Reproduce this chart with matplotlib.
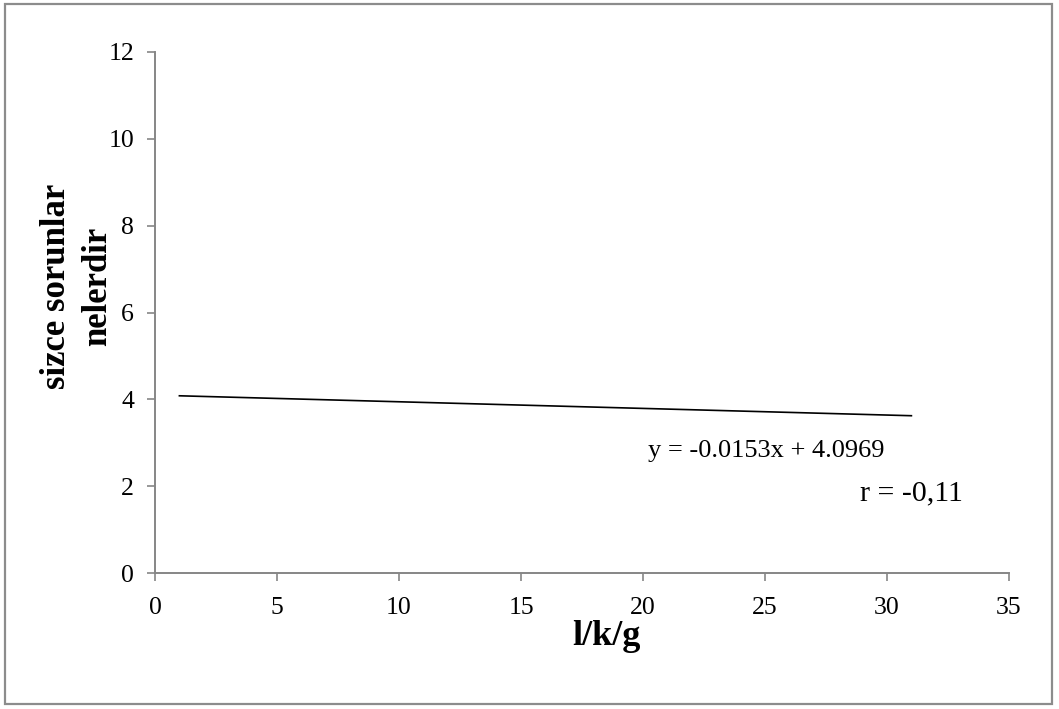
import matplotlib
matplotlib.use("Agg")
import matplotlib.pyplot as plt
from matplotlib.patches import Rectangle
import numpy as np

plt.rcParams['font.family'] = ['Liberation Serif', 'DejaVu Serif']

# Trend line y = slope * x + intercept, drawn over the observed x range
slope = -0.0153
intercept = 4.0969
x_range = [1, 31]
r_value = "-0,11"

x_ticks = [0, 5, 10, 15, 20, 25, 30, 35]
y_ticks = [0, 2, 4, 6, 8, 10, 12]

x_label = "l/k/g"
y_label = "sizce sorunlar\nnelerdir"
eq_text = "y = -0.0153x + 4.0969"
r_text = "r = " + r_value

W, H = 1059, 709
fig = plt.figure(figsize=(W / 100, H / 100), dpi=100)
fig.patch.set_facecolor("white")

# outer chart frame
fig.add_artist(Rectangle((5 / W, 5 / H), 1047 / W, 700 / H, transform=fig.transFigure,
                         fill=False, edgecolor="#8c8c8c", linewidth=1.6))

ax = fig.add_axes([155 / W, 1 - 573 / H, (1009 - 155) / W, (573 - 52) / H])

xs = np.array(x_range, dtype=float)
ax.plot(xs, slope * xs + intercept, color="black", linewidth=1.2)

ax.set_xlim(x_ticks[0], x_ticks[-1])
ax.set_ylim(y_ticks[0], y_ticks[-1])
ax.set_xticks(x_ticks)
ax.set_yticks(y_ticks)
ax.set_xticklabels([str(t) for t in x_ticks])
ax.set_yticklabels([str(t) for t in y_ticks])

for side in ("top", "right"):
    ax.spines[side].set_visible(False)
for side in ("left", "bottom"):
    ax.spines[side].set_color("#868686")
    ax.spines[side].set_linewidth(1.4)

ax.tick_params(axis="both", direction="out", length=6, width=1.2, color="#868686",
               labelsize=18.5, labelcolor="black")
ax.tick_params(axis="y", pad=9)
ax.tick_params(axis="x", pad=11)

ax.text(20.2, 2.81, eq_text, fontsize=19, ha="left", va="center")
ax.text(28.9, 1.84, r_text, fontsize=21.5, ha="left", va="center")

fig.text(606 / W, 1 - 645 / H, x_label, fontsize=26, fontweight="bold",
         ha="center", va="baseline")
fig.text(77 / W, 1 - 286 / H, y_label, fontsize=25, fontweight="bold",
         rotation=90, ha="center", va="center", multialignment="center", linespacing=1.3)

fig.savefig("out.png", dpi=100, facecolor="white")
